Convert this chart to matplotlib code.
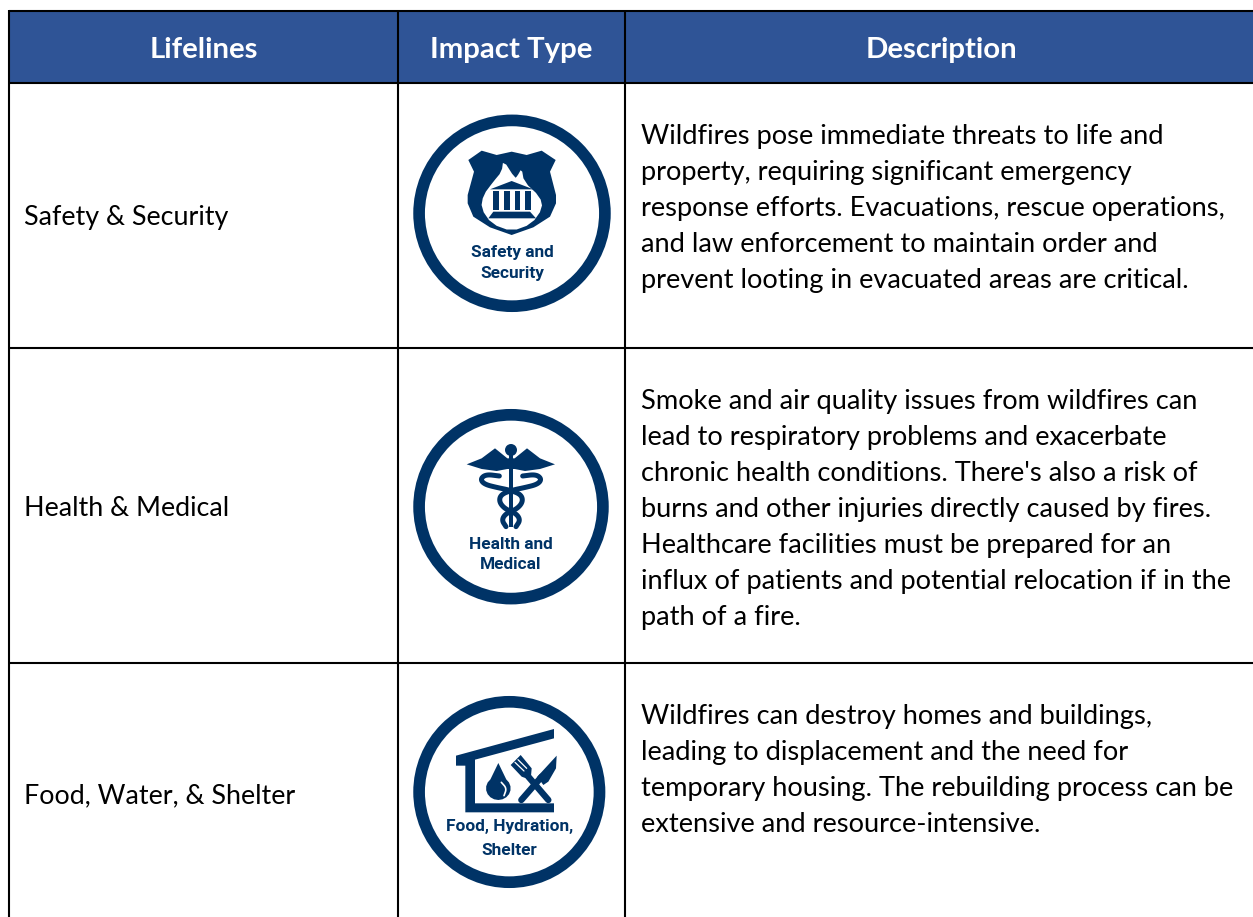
import numpy as np
import matplotlib
matplotlib.use("Agg")
import matplotlib.pyplot as plt
from matplotlib.patches import Circle, Polygon, Rectangle

# table content
headers = ["Lifelines", "Impact Type", "Description"]
lifelines = ["Safety & Security", "Health & Medical", "Food, Water, & Shelter"]
icon_labels = [["Safety and", "Security"], ["Health and", "Medical"], ["Food, Hydration,", "Shelter"]]
descriptions = [
    ["Wildfires pose immediate threats to life and",
     "property, requiring significant emergency",
     "response efforts. Evacuations, rescue operations,",
     "and law enforcement to maintain order and",
     "prevent looting in evacuated areas are critical."],
    ["Smoke and air quality issues from wildfires can",
     "lead to respiratory problems and exacerbate",
     "chronic health conditions. There's also a risk of",
     "burns and other injuries directly caused by fires.",
     "Healthcare facilities must be prepared for an",
     "influx of patients and potential relocation if in the",
     "path of a fire."],
    ["Wildfires can destroy homes and buildings,",
     "leading to displacement and the need for",
     "temporary housing. The rebuilding process can be",
     "extensive and resource-intensive."],
]

# layout in image pixels
col_x = [9, 398, 625, 1253]
row_y = [11, 83, 348, 663, 917]
header_x = [204, 511.5, 941]
life_y = [225, 516, 803]
desc_first = [144, 409, 724]
line_gap = 36
HEADER = "#2F5496"
NAVY = "#003366"
FONT = "Lato"

fig = plt.figure(figsize=(12.53, 9.17), dpi=100)
ax = fig.add_axes([0, 0, 1, 1])
ax.set_xlim(0, 1253)
ax.set_ylim(917, 0)
ax.axis("off")

# header band and grid
ax.add_patch(Rectangle((col_x[0], row_y[0]), col_x[3] - col_x[0], row_y[1] - row_y[0], fc=HEADER, ec="none"))
for x in col_x[:3]:
    ax.plot([x, x], [row_y[0] - 1, 917], color="black", lw=1.5, solid_capstyle="butt")
for y in row_y[:4]:
    ax.plot([col_x[0], 1253], [y, y], color="black", lw=1.5, solid_capstyle="butt")

for x, h in zip(header_x, headers):
    ax.text(x, 58, h, color="white", fontsize=21.2, fontweight="bold",
            family=FONT, ha="center", va="baseline")

for name, y in zip(lifelines, life_y):
    ax.text(24, y, name, fontsize=19.4, family=FONT, color="black", va="baseline")

for lines, y0 in zip(descriptions, desc_first):
    for k, line in enumerate(lines):
        ax.text(641, y0 + k * line_gap, line, fontsize=19.6, family=FONT, color="black", va="baseline")


# zoom crops were 3x, so icon shapes are noted in crop coordinates
def to_px(pts, ox, oy):
    pts = np.array(pts, dtype=float)
    return pts / 3 + [ox, oy]


def rounded(pts, passes=2):
    # corner cutting so the outlines are not so jagged
    pts = np.array(pts, dtype=float)
    for _ in range(passes):
        nxt = np.roll(pts, -1, axis=0)
        pts = np.column_stack([0.75 * pts + 0.25 * nxt, 0.25 * pts + 0.75 * nxt]).reshape(-1, 2)
    return pts


def poly(pts, ox, oy, color=NAVY):
    ax.add_patch(Polygon(to_px(pts, ox, oy), closed=True, fc=color, ec="none"))


def stroke(pts, ox, oy, lw, color=NAVY):
    p = to_px(pts, ox, oy)
    ax.plot(p[:, 0], p[:, 1], color=color, lw=lw, solid_capstyle="round", solid_joinstyle="round")


def curve(pts, ox, oy, lw, color=NAVY):
    # open smoothed stroke
    pts = np.array(pts, dtype=float)
    for _ in range(3):
        a, b = pts[:-1], pts[1:]
        mid = np.column_stack([0.75 * a + 0.25 * b, 0.25 * a + 0.75 * b]).reshape(-1, 2)
        pts = np.vstack([pts[0], mid, pts[-1]])
    stroke(pts, ox, oy, lw, color)


def ring(cx, cy, r):
    ax.add_patch(Circle((cx, cy), r - 5.8, fc="white", ec=NAVY, lw=8.4))


def icon_text(lines, cx, ys, size=12.4):
    for line, y in zip(lines, ys):
        ax.text(cx, y, line, fontsize=size, fontweight="bold", family="Roboto",
                color=NAVY, ha="center", va="baseline")


# safety icon
ox, oy = 400, 100
ring(512, 213.3, 98.7)
poly([(205, 180), (245, 152), (290, 165), (335, 155), (380, 165), (425, 152), (467, 180), (450, 215),
      (468, 285), (468, 310), (450, 350), (400, 382), (335, 405), (270, 382), (220, 350), (203, 310),
      (203, 285), (222, 215)], ox, oy)
flame = rounded([(250, 285), (280, 245), (305, 215), (310, 180), (345, 235), (352, 228), (365, 205), (372, 245),
                 (420, 290), (428, 325), (395, 372), (335, 394), (275, 372), (243, 325)], 1)
poly(flame, ox, oy, "white")
poly([(270, 268), (335, 243), (400, 268)], ox, oy)
for x in [280, 312, 344, 376]:
    poly([(x, 274), (x + 17, 274), (x + 17, 330), (x, 330)], ox, oy)
poly([(280, 335), (390, 335), (408, 355), (265, 355)], ox, oy)
icon_text(icon_labels[0], 512, [257, 278])

# health icon
ox, oy = 400, 395
ring(511, 506.7, 97.7)
ax.add_patch(Circle(tuple(to_px([(333, 165)], ox, oy)[0]), 6, fc=NAVY, ec="none"))
poly([(200, 208), (245, 190), (285, 160), (322, 190), (344, 190), (381, 160), (420, 190), (465, 208),
      (420, 222), (375, 228), (344, 222), (322, 222), (290, 228), (245, 222)], ox, oy)
poly([(328, 180), (338, 180), (338, 395), (328, 395)], ox, oy)
for sign in [-1, 1]:
    snake = [(35, 243), (75, 238), (92, 252), (80, 268), (40, 278), (5, 285), (-30, 298), (-36, 320),
             (-18, 342), (15, 355), (28, 375), (15, 395)]
    curve([(333 + sign * a, b) for a, b in snake], ox, oy, 3.6)
icon_text(icon_labels[1], 511, [549, 569])

# food icon
ox, oy = 400, 685
ring(509.3, 792, 96)
poly([(168, 212), (462, 132), (462, 160), (225, 224), (225, 355), (462, 355), (462, 382), (196, 382),
      (196, 242), (168, 242)], ox, oy)
t = np.radians(np.arange(-50, 231, 20))
drop = [(295, 234)] + [(295 + 37 * np.cos(a), 310 + 35 * np.sin(a)) for a in t]
poly(drop, ox, oy)
curve([(304, 292), (320, 310), (312, 332)], ox, oy, 1.2, "white")
stroke([(364, 345), (425, 275)], ox, oy, 4.6)
poly([(412, 275), (470, 212), (468, 250), (445, 290), (430, 300)], ox, oy)
stroke([(445, 345), (385, 275)], ox, oy, 4.6)
poly([(332, 240), (362, 210), (395, 250), (392, 285), (365, 275)], ox, oy)
for a, b in [((345, 232), (372, 258)), ((354, 224), (380, 250))]:
    stroke([a, b], ox, oy, 0.9, "white")
icon_text(icon_labels[2], 509.3, [831, 855])

fig.savefig("out.png", dpi=100)
